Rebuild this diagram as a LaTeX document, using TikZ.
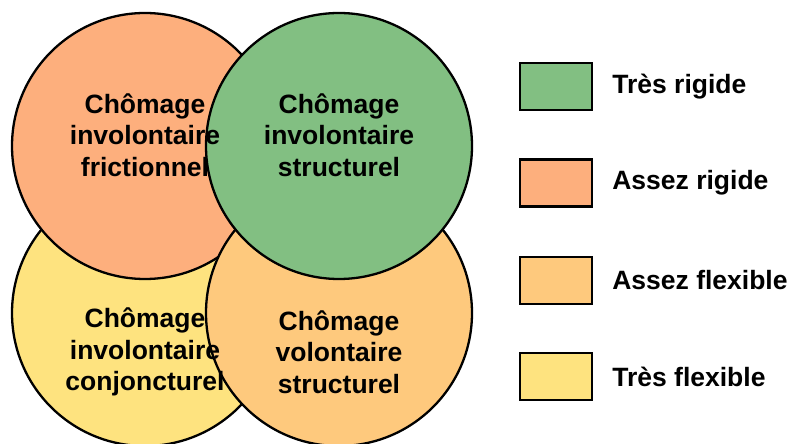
\documentclass[tikz,border=0pt]{standalone}
\usepackage{fontspec}
\setmainfont{Liberation Sans}
\usepackage{tikz}
\usetikzlibrary{positioning}
\definecolor{tresrigide}{RGB}{130,191,130}
\definecolor{assezrigide}{RGB}{253,175,125}
\definecolor{assezflex}{RGB}{254,201,125}
\definecolor{tresflex}{RGB}{254,227,127}
\tikzset{
  zone/.style={draw=black,line width=2.3pt},
  zonetext/.style={font=\bfseries\fontsize{26.5}{31.5}\selectfont,align=center,inner sep=0pt},
  legbox/.style={draw=black,line width=2.3pt,minimum width=72pt,minimum height=47pt,inner sep=0pt},
}

\begin{document}
\begin{tikzpicture}[x=1pt,y=1pt]
        \useasboundingbox (0,0) rectangle (790,444);
        \clip (0,0) rectangle (790,444);

        % circles
        \filldraw[zone,fill=tresflex] (145,131) circle (133);
        \filldraw[zone,fill=assezrigide] (145,298) circle (133);
        \filldraw[zone,fill=assezflex] (339,131) circle (133);
        \filldraw[zone,fill=tresrigide] (339,298) circle (133);

        \node[zonetext] (fric) at (145,309) {Chômage\\involontaire\\frictionnel};
        \node[zonetext] (struc) at (339,309) {Chômage\\involontaire\\structurel};
        \node[zonetext] (conj) at (145,92) {Chômage\\involontaire\\conjoncturel};
        \node[zonetext] (vol) at (339,92) {Chômage\\volontaire\\structurel};

        % legend
        \node[legbox,fill=tresrigide] (tr) at (556,357.5) {};
        \node[legbox,fill=assezrigide] (ar) at (556,261) {};
        \node[legbox,fill=assezflex] (af) at (556,163.5) {};
        \node[legbox,fill=tresflex] (tf) at (556,67.5) {};

        \node[zonetext,right=19pt of tr] (trtext) {Très rigide};
        \node[zonetext,right=19pt of ar] (artext) {Assez rigide};
        \node[zonetext,right=19pt of af] (aftext) {Assez flexible};
        \node[zonetext,right=19pt of tf] (tftext) {Très flexible};
\end{tikzpicture}
\end{document}
